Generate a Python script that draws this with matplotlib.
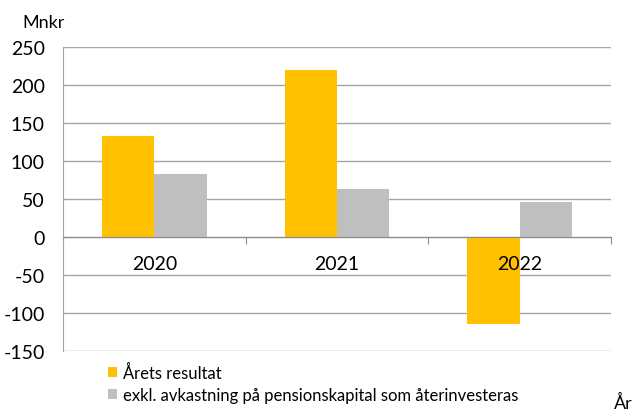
import matplotlib
matplotlib.use("Agg")
import matplotlib.pyplot as plt
import matplotlib.transforms as mtransforms
import numpy as np

years = ["2020", "2021", "2022"]
arets_resultat = [133, 220, -114]
exkl_avkastning = [83, 63, 46]
series_labels = ["Årets resultat", "exkl. avkastning på pensionskapital som återinvesteras"]
yticks = [-150, -100, -50, 0, 50, 100, 150, 200, 250]

plt.rcParams['font.family'] = ['Lato', 'DejaVu Sans']

fig = plt.figure(figsize=(6.34, 4.10), dpi=100)
ax = fig.add_axes([63/634, 58/410, 548/634, 304/410])

x = np.arange(len(years))
w = 0.286
b1 = ax.bar(x - w/2, arets_resultat, w, color="#FFC000", label=series_labels[0], zorder=3)
b2 = ax.bar(x + w/2, exkl_avkastning, w, color="#BFBFBF", label=series_labels[1], zorder=3)

ax.set_xlim(-0.5, len(years) - 0.5)
ax.set_ylim(-150, 250)
ax.set_yticks(yticks)
ax.set_yticklabels([str(v) for v in yticks])
ax.grid(axis='y', color='#A6A6A6', linewidth=1.0, zorder=0)
ax.set_axisbelow(True)

for s in ['top', 'right']:
    ax.spines[s].set_visible(False)
ax.spines['left'].set_color('#A6A6A6')
ax.spines['bottom'].set_position(('data', 0))
ax.spines['bottom'].set_color('#8C8C8C')
ax.spines['bottom'].set_zorder(4)

ax.set_xticks(np.arange(len(years) + 1) - 0.5)
ax.set_xticklabels([])
ax.tick_params(axis='x', length=5, direction='out', color='#8C8C8C')
ax.tick_params(axis='y', length=0, pad=13, labelsize=14)

# year labels drawn above the bars
offset = mtransforms.ScaledTranslation(0, -27/100, fig.dpi_scale_trans)
for xi, yr in zip(x, years):
    ax.text(xi, 0, yr, ha='center', va='center', fontsize=14, zorder=6,
            transform=ax.transData + offset)

fig.text(22/634, 1 - 23/410, "Mnkr", fontsize=13, va='center', ha='left')
fig.text(614/634, 1 - 403/410, "År", fontsize=13, va='center', ha='left')

fig.legend(handles=[b1, b2], labels=series_labels, loc='upper left',
           bbox_to_anchor=(108/634, 1 - 365/410), frameon=False, fontsize=12,
           handlelength=0.55, handleheight=0.55, handletextpad=0.35, labelspacing=0.35,
           borderaxespad=0, borderpad=0)

fig.savefig("out.png", dpi=100)
